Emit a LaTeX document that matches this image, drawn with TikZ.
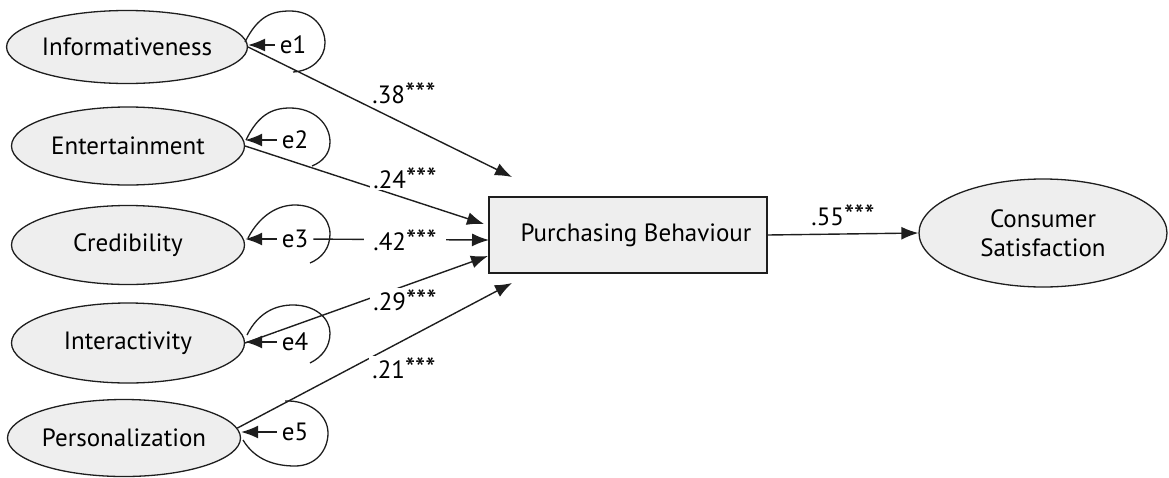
\documentclass[tikz,border=0pt]{standalone}
\usepackage{fontspec}
\setmainfont{PT Sans}
\usetikzlibrary{arrows.meta,shapes.geometric}
\definecolor{nodefill}{HTML}{EEEEEE}
\definecolor{ink}{HTML}{1E1E1E}
\newcommand\semstars{{\fontsize{29}{29}\selectfont ***}}
\begin{document}
\begin{tikzpicture}[x=1pt,y=-1pt, font=\fontsize{25}{29}\selectfont,
  latent/.style={ellipse, draw=ink, line width=1.3pt, fill=nodefill, inner sep=0pt},
  boxnode/.style={rectangle, draw=ink, line width=1.3pt, fill=nodefill, inner sep=0pt},
  errlab/.style={inner xsep=5pt, inner ysep=1pt, fill=white},
  pathline/.style={draw=ink, line width=1.4pt, -{Latex[length=17pt,width=13pt]}},
  loopline/.style={draw=ink, line width=1.3pt},
  coef/.style={fill=white, inner xsep=3pt, inner ysep=1pt}]
\useasboundingbox (0,0) rectangle (1169,477);

% latent variables
\node[latent, minimum width=231pt, minimum height=73pt] (inf) at (127,47) {Informativeness};
\node[latent, minimum width=233pt, minimum height=78pt] (ent) at (128,146) {Entertainment};
\node[latent, minimum width=233pt, minimum height=79pt] (cred) at (128,245) {Credibility};
\node[latent, minimum width=233pt, minimum height=80pt] (inter) at (128,343) {Interactivity};
\node[latent, minimum width=233pt, minimum height=77pt] (pers) at (124,438) {Personalization};
\node[boxnode, minimum width=278pt, minimum height=76pt] (pb) at (628,235) {\hspace*{16pt}Purchasing Behaviour};
\node[latent, minimum width=248pt, minimum height=108pt, align=center] (cs) at (1043,233) {Consumer\\Satisfaction};

% arrow end points
\coordinate (t1) at (512,177);
\coordinate (t2) at (484,224);
\coordinate (t3) at (489,240);
\coordinate (t4) at (488,256);
\coordinate (t5) at (512,283);

% paths to purchasing behaviour
\draw[pathline] (inf.east) -- (t1);
\draw[pathline] (ent.east) -- (t2);
\draw[pathline] (inter.east) -- (t4);
\draw[pathline] (pers.5) -- (t5);
\draw[pathline] (pb.east) -- (cs.west);

% error terms
\node[errlab] (e1) at (293,45) {e1};
\node[errlab] (e2) at (295,140) {e2};
\node[errlab] (e3) at (295,239) {e3};
\node[errlab] (e4) at (295,342) {e4};
\node[errlab] (e5) at (295,432) {e5};

\draw[pathline] (e3) -- (t3);

\draw[pathline] (e1.west) -- (e1.west -| inf.east);
\draw[pathline] (e2.west) -- (e2.west -| ent.east);
\draw[pathline] (e3.west) -- (e3.west -| cred.east);
\draw[pathline] (e4.west) -- (e4.west -| inter.east);
\draw[pathline] (e5.west) -- (e5.west -| pers.east);

% variance loops
\draw[loopline] (245,42) .. controls (258,16) and (272,11) .. (290,11) .. controls (312,11) and (325,26) .. (325,43) .. controls (325,58) and (312,71) .. (293,72);
\draw[loopline] (246,140) .. controls (258,115) and (272,108) .. (290,108) .. controls (314,108) and (330,124) .. (330,142) .. controls (330,154) and (322,162) .. (312,166);
\draw[loopline] (248,238) .. controls (260,215) and (278,205) .. (295,205) .. controls (316,205) and (330,218) .. (330,234) .. controls (330,248) and (322,258) .. (310,263);
\draw[loopline] (247,335) .. controls (258,313) and (275,305) .. (293,305) .. controls (315,305) and (330,318) .. (330,333) .. controls (330,347) and (322,357) .. (310,363);
\draw[loopline] (243,440) .. controls (255,460) and (275,466) .. (295,466) .. controls (316,466) and (328,450) .. (328,433) .. controls (328,414) and (308,400) .. (285,401);

% coefficients
\node[coef] (c1) at (404,93) {.38\semstars};
\node[coef] (c2) at (405,178) {.24\semstars};
\node[coef, inner xsep=9pt] (c3) at (405,240) {.42\semstars};
\node[coef] (c4) at (405,300) {.29\semstars};
\node[coef] (c5) at (404,368) {.21\semstars};
\node[coef] (c6) at (843,215) {.55\semstars};
\end{tikzpicture}
\end{document}
